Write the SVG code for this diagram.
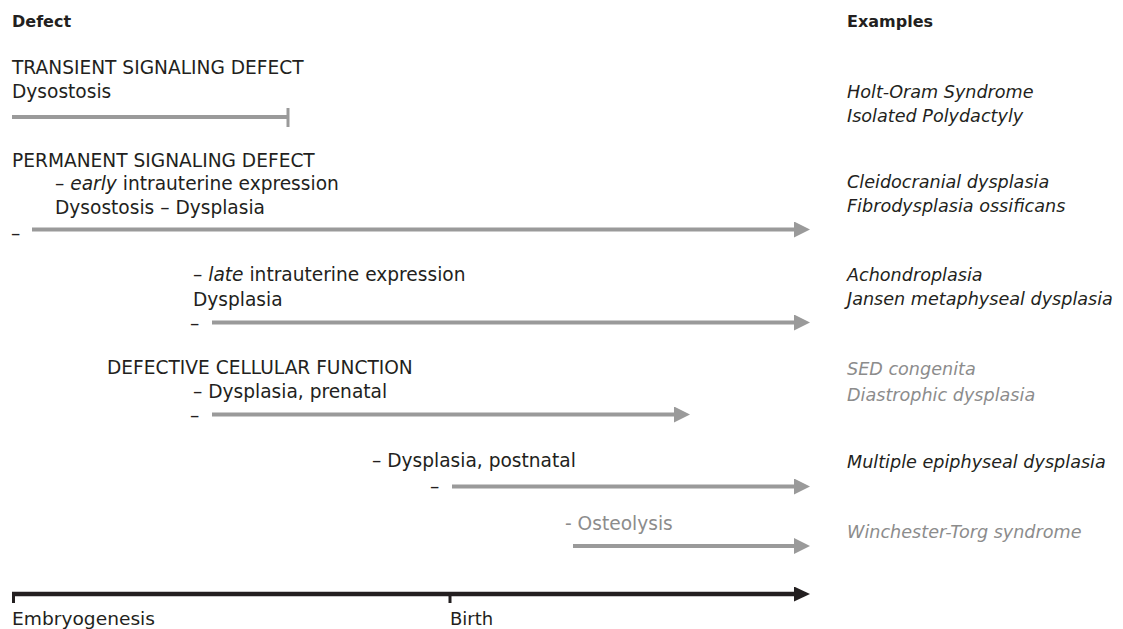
<svg xmlns="http://www.w3.org/2000/svg" width="1123" height="629" viewBox="0 0 1123 629">
  <style>
    text { font-family: "DejaVu Sans", "Liberation Sans", sans-serif; fill: #231f20; }
    .hd { font-size: 16px; font-weight: bold; }
    .lt { font-size: 18.6px; }
    .ex { font-size: 17.6px; font-style: italic; }
    .ax { font-size: 18px; }
    .muted { fill: #8c8c8c; }
    .it { font-style: italic; }
    .bar { stroke: #9a9a9a; stroke-width: 4; fill: none; }
    .axis { stroke: #231f20; stroke-width: 4.5; fill: none; }
  </style>
  <defs>
    <marker id="ah" markerUnits="userSpaceOnUse" markerWidth="16" markerHeight="16" refX="6" refY="8" orient="auto">
      <path d="M0,0 L16,8 L0,16 z" fill="#9a9a9a"/>
    </marker>
    <marker id="ahk" markerUnits="userSpaceOnUse" markerWidth="16" markerHeight="15" refX="6" refY="7.5" orient="auto">
      <path d="M0,0 L16,7.5 L0,15 z" fill="#231f20"/>
    </marker>
  </defs>
  <rect width="1123" height="629" fill="#ffffff"/>

  <g id="headers">
    <text class="hd" x="12" y="27">Defect</text>
    <text class="hd" x="847" y="27">Examples</text>
  </g>

  <g id="transient">
    <text class="lt" x="12" y="74">TRANSIENT SIGNALING DEFECT</text>
    <text class="lt" x="12" y="98">Dysostosis</text>
  </g>
  <g id="transient-examples">
    <text class="ex" x="847" y="98">Holt-Oram Syndrome</text>
    <text class="ex" x="847" y="122">Isolated Polydactyly</text>
  </g>

  <g id="permanent-early">
    <text class="lt" x="12" y="167">PERMANENT SIGNALING DEFECT</text>
    <text class="lt" x="55" y="190">– <tspan class="it">early</tspan> intrauterine expression</text>
    <text class="lt" x="55" y="214">Dysostosis – Dysplasia</text>
    <text class="lt" x="11" y="240">–</text>
  </g>
  <g id="permanent-early-examples">
    <text class="ex" x="847" y="188">Cleidocranial dysplasia</text>
    <text class="ex" x="847" y="212">Fibrodysplasia ossificans</text>
  </g>

  <g id="permanent-late">
    <text class="lt" x="193" y="281">– <tspan class="it">late</tspan>  intrauterine expression</text>
    <text class="lt" x="193" y="306">Dysplasia</text>
    <text class="lt" x="190" y="330">–</text>
  </g>
  <g id="permanent-late-examples">
    <text class="ex" x="847" y="281">Achondroplasia</text>
    <text class="ex" x="847" y="305">Jansen metaphyseal dysplasia</text>
  </g>

  <g id="cellular-prenatal">
    <text class="lt" x="107" y="374">DEFECTIVE CELLULAR FUNCTION</text>
    <text class="lt" x="193" y="398">– Dysplasia, prenatal</text>
    <text class="lt" x="190" y="422">–</text>
  </g>
  <g id="cellular-prenatal-examples">
    <text class="ex muted" x="847" y="375">SED congenita</text>
    <text class="ex muted" x="847" y="401">Diastrophic dysplasia</text>
  </g>

  <g id="cellular-postnatal">
    <text class="lt" x="372" y="467">– Dysplasia, postnatal</text>
    <text class="lt" x="430" y="493">–</text>
  </g>
  <g id="cellular-postnatal-examples">
    <text class="ex" x="847" y="468">Multiple epiphyseal dysplasia</text>
  </g>

  <g id="osteolysis">
    <text class="lt muted" x="565" y="530">- Osteolysis</text>
  </g>
  <g id="osteolysis-examples">
    <text class="ex muted" x="847" y="538">Winchester-Torg syndrome</text>
  </g>

  <g id="timeline">
    <text class="ax" x="12" y="625" textLength="143" lengthAdjust="spacingAndGlyphs">Embryogenesis</text>
    <text class="ax" x="450" y="625">Birth</text>
  </g>

  <g id="connectors">
    <line class="bar" x1="12" y1="117" x2="288" y2="117"/>
    <line x1="288" y1="108" x2="288" y2="127" stroke="#9a9a9a" stroke-width="3"/>
    <line class="bar" x1="32" y1="229.5" x2="800" y2="229.5" marker-end="url(#ah)"/>
    <line class="bar" x1="212" y1="322.5" x2="800" y2="322.5" marker-end="url(#ah)"/>
    <line class="bar" x1="212" y1="414.5" x2="680" y2="414.5" marker-end="url(#ah)"/>
    <line class="bar" x1="452" y1="486.5" x2="800" y2="486.5" marker-end="url(#ah)"/>
    <line class="bar" x1="573" y1="546" x2="800" y2="546" marker-end="url(#ah)"/>
    <line class="axis" x1="12" y1="594" x2="800" y2="594" marker-end="url(#ahk)"/>
    <line x1="13.5" y1="594" x2="13.5" y2="603" stroke="#231f20" stroke-width="3"/>
    <line x1="450" y1="594" x2="450" y2="603" stroke="#231f20" stroke-width="3"/>
  </g>
</svg>
